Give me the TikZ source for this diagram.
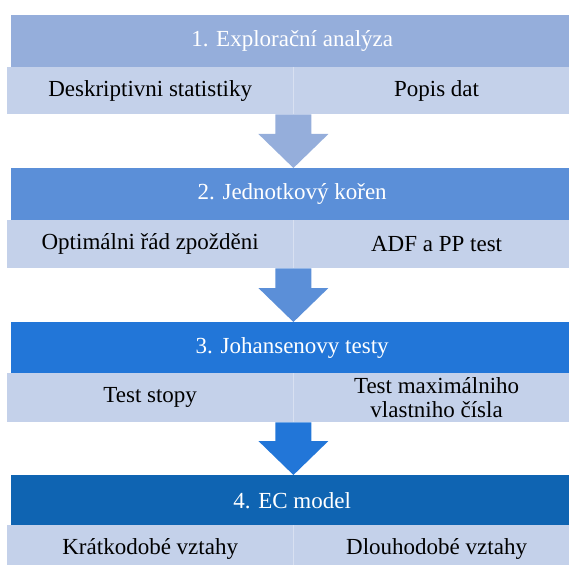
\documentclass[tikz,border=0pt]{standalone}
\usepackage{fontspec}
\setmainfont{Liberation Serif}
\newfontfamily\patkove{Liberation Serif}
\usetikzlibrary{calc}
\definecolor{krok1}{HTML}{95AEDB}
\definecolor{krok2}{HTML}{5B8FD8}
\definecolor{krok3}{HTML}{2276D8}
\definecolor{krok4}{HTML}{0F64B2}
\definecolor{podkrok}{HTML}{C4D1EA}
\definecolor{predel}{HTML}{D8E0F1}
\begin{document}
\begin{tikzpicture}[x=1pt,y=-1pt,
  krok/.style={rectangle, anchor=north west, inner sep=0pt, minimum width=562pt, text=white, font=\patkove\fontsize{23}{24}\selectfont},
  bunka/.style={rectangle, anchor=north west, inner sep=0pt, minimum width=286pt, fill=podkrok, text=black, align=center, font=\patkove\fontsize{23}{24}\selectfont}]
\useasboundingbox (0,0) rectangle (569,564);
\clip (0,0) rectangle (569,564);
\node [krok, fill=krok1, minimum height=52pt] (h1) at (11,15) {1. Explorační analýza};
\node [bunka, minimum height=47pt] (l1) at (7,67) {Deskriptivni statistiky};
\node [bunka, minimum height=47pt] (r1) at (l1.north east) {Popis dat};
\node [krok, fill=krok2, minimum height=52pt] (h2) at (11,168) {2. Jednotkový kořen};
\node [bunka, minimum height=48pt] (l2) at (7,220) {Optimálni řád zpožděni};
\node [bunka, minimum height=48pt] (r2) at (l2.north east) {ADF a PP test};
\node [krok, fill=krok3, minimum height=51pt] (h3) at (11,322) {3. Johansenovy testy};
\node [bunka, minimum height=49pt] (l3) at (7,373) {Test stopy};
\node [bunka, minimum height=49pt] (r3) at (l3.north east) {Test maximálniho\\vlastniho čísla};
\node [krok, fill=krok4, minimum height=50pt] (h4) at (11,475) {4. EC model};
\node [bunka, minimum height=47pt] (l4) at (7,525) {Krátkodobé vztahy};
\node [bunka, minimum height=47pt] (r4) at (l4.north east) {Dlouhodobé vztahy};
\foreach \i in {1,2,3,4}
  \draw [predel, line width=1pt] (l\i.north east) -- (l\i.south east);
\foreach \i/\j in {1/2,2/3,3/4}
  \fill [krok\i] ($(l\i.south east)+(-18,0)$) -- ($(l\i.south east)+(18,0)$)
    -- ($(h\j.north -| l\i.south east)+(18,-34)$) -- ($(h\j.north -| l\i.south east)+(35,-34)$)
    -- (h\j.north -| l\i.south east)
    -- ($(h\j.north -| l\i.south east)+(-35,-34)$) -- ($(h\j.north -| l\i.south east)+(-18,-34)$) -- cycle;
\end{tikzpicture}
\end{document}
